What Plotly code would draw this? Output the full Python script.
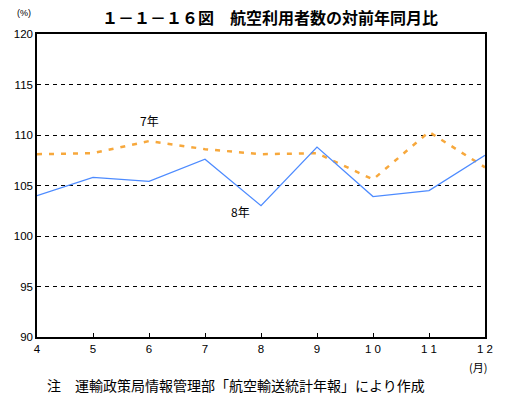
import plotly.graph_objects as go

months = [4, 5, 6, 7, 8, 9, 10, 11, 12]
month_labels = ["4", "5", "6", "7", "8", "9", "1 0", "1 1", "1 2"]
y7 = [108.1, 108.2, 109.4, 108.6, 108.1, 108.2, 105.6, 110.3, 106.8]   # 7年
y8 = [104.0, 105.8, 105.4, 107.6, 103.0, 108.8, 103.9, 104.5, 108.0]   # 8年
yticks = [90, 95, 100, 105, 110, 115, 120]

jp = "Noto Sans CJK JP"
num = "Liberation Sans"

fig = go.Figure()
fig.add_trace(go.Scatter(x=months, y=y7, mode="lines", name="7年",
                         line=dict(color="#F7A83C", width=2.5, dash="5px,7px")))
fig.add_trace(go.Scatter(x=months, y=y8, mode="lines", name="8年",
                         line=dict(color="#4D8BFF", width=1.3)))

fig.update_layout(
    width=507, height=395,
    margin=dict(l=37, r=22, t=34, b=58),
    paper_bgcolor="white", plot_bgcolor="white",
    showlegend=False,
    title=dict(text="<b>１－１－１６図　航空利用者数の対前年同月比</b>",
               x=270/507, xanchor="center", y=1-18/395, yanchor="middle",
               font=dict(family=jp, size=16, color="black")),
    xaxis=dict(range=[4, 12], tickvals=months, ticktext=month_labels,
               showgrid=False, zeroline=False,
               showline=True, linecolor="black", linewidth=1.5, mirror=True,
               ticks="inside", ticklen=4, tickcolor="black",
               tickfont=dict(family=num, size=11.5, color="black")),
    yaxis=dict(range=[90, 120], tickvals=yticks,
               showgrid=True, gridcolor="black", gridwidth=1, griddash="4px,4px",
               zeroline=False,
               showline=True, linecolor="black", linewidth=1.5, mirror=True,
               ticks="", tickfont=dict(family=num, size=11.5, color="black")),
    font=dict(family=jp, color="black"),
)

fig.add_annotation(x=6, y=111.4, text="7年", showarrow=False,
                   font=dict(family=jp, size=12, color="black"))
fig.add_annotation(x=7.64, y=102.4, text="8年", showarrow=False,
                   font=dict(family=jp, size=12, color="black"))
fig.add_annotation(xref="paper", yref="paper", x=-0.03, y=1.045, text="(%)",
                   showarrow=False, xanchor="center", yanchor="bottom",
                   font=dict(family=num, size=9, color="black"))
fig.add_annotation(xref="paper", yref="paper", x=0.985, y=-0.065, text="(月)",
                   showarrow=False, xanchor="center", yanchor="top",
                   font=dict(family=jp, size=11, color="black"))
fig.add_annotation(xref="paper", yref="paper", x=8/448, y=-0.12,
                   text="注　運輸政策局情報管理部「航空輸送統計年報」により作成",
                   showarrow=False, xanchor="left", yanchor="top",
                   font=dict(family=jp, size=14, color="black"))

fig.write_html("out.html", config={"displayModeBar": False},
               post_script="document.body.style.margin='0';document.body.style.overflow='hidden';")
